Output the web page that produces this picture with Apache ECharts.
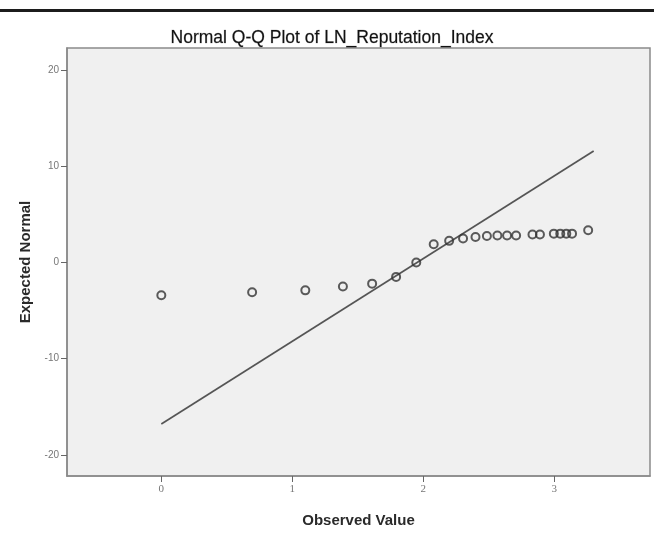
<!DOCTYPE html>
<html>
<head>
<meta charset="utf-8">
<script src="https://cdn.jsdelivr.net/npm/echarts@6/dist/echarts.min.js"></script>
<style>
  html, body { margin: 0; padding: 0; background: #ffffff; }
  #chart { width: 654px; height: 533px; }
</style>
</head>
<body>
<div id="chart"></div>
<script>
// Observed values (natural log of the index) and their expected normal scores
const observedValues = [0.000, 0.693, 1.099, 1.386, 1.609, 1.792, 1.946, 2.079, 2.197, 2.303, 2.398,
  2.485, 2.565, 2.639, 2.708, 2.833, 2.890, 2.996, 3.045, 3.091, 3.135, 3.258];
const expectedNormal = [-3.4, -3.1, -2.9, -2.5, -2.2, -1.5, 0.0, 1.9, 2.25, 2.5, 2.65,
  2.75, 2.8, 2.8, 2.8, 2.9, 2.9, 3.0, 3.0, 3.0, 3.0, 3.35];

// Reference line end points
const refLineX = [0.0, 3.30];
const refLineY = [-16.8, 11.6];

// Axis tick labels
const xTicks = [0, 1, 2, 3];
const yTicks = [-20, -10, 0, 10, 20];

const points = observedValues.map((v, i) => [v, expectedNormal[i]]);
const refLine = refLineX.map((v, i) => [v, refLineY[i]]);

const chart = echarts.init(document.getElementById('chart'), null, { renderer: 'canvas' });

chart.setOption({
  backgroundColor: '#ffffff',
  animation: false,
  title: {
    text: 'Normal Q-Q Plot of LN_Reputation_Index',
    left: 327,
    textAlign: 'center',
    top: 24,
    textStyle: {
      fontFamily: 'Liberation Sans, Arial, sans-serif',
      fontSize: 17.5,
      fontWeight: 'normal',
      color: '#111111',
      textBorderColor: 'rgba(17,17,17,0.35)',
      textBorderWidth: 0.6
    }
  },
  graphic: [
    {
      type: 'rect',
      shape: { x: 0, y: 9, width: 654, height: 3 },
      style: { fill: '#1c1c1c' },
      silent: true
    }
  ],
  grid: {
    left: 67,
    top: 48,
    right: 4,
    bottom: 57,
    show: true,
    backgroundColor: '#f0f0f0',
    borderColor: '#8a8a8a',
    borderWidth: 1.5
  },
  xAxis: {
    type: 'value',
    min: -0.72,
    max: 3.73,
    name: 'Observed Value',
    nameLocation: 'middle',
    nameGap: 37,
    nameTextStyle: {
      fontFamily: 'Liberation Sans, Arial, sans-serif',
      fontSize: 15,
      fontWeight: 'bold',
      color: '#2a2a2a'
    },
    axisLine: { show: true, onZero: false, lineStyle: { color: '#8a8a8a', width: 1.5 } },
    splitLine: { show: false },
    axisTick: {
      show: true,
      customValues: xTicks,
      length: 6,
      lineStyle: { color: '#666666', width: 1 }
    },
    axisLabel: {
      customValues: xTicks,
      margin: 8,
      fontFamily: 'Liberation Serif, serif',
      fontSize: 11,
      color: '#777777',
      formatter: v => String(v)
    }
  },
  yAxis: {
    type: 'value',
    min: -22.2,
    max: 22.3,
    name: 'Expected Normal',
    nameLocation: 'middle',
    nameGap: 34,
    nameRotate: 90,
    nameTextStyle: {
      fontFamily: 'Liberation Sans, Arial, sans-serif',
      fontSize: 15,
      fontWeight: 'bold',
      color: '#2a2a2a'
    },
    axisLine: { show: true, onZero: false, lineStyle: { color: '#8a8a8a', width: 1.5 } },
    splitLine: { show: false },
    axisTick: {
      show: true,
      customValues: yTicks,
      length: 6,
      lineStyle: { color: '#666666', width: 1 }
    },
    axisLabel: {
      customValues: yTicks,
      margin: 8,
      fontFamily: 'Liberation Sans, Arial, sans-serif',
      fontSize: 10,
      color: '#777777',
      formatter: v => String(v)
    }
  },
  series: [
    {
      name: 'Reference',
      type: 'line',
      data: refLine,
      showSymbol: false,
      symbol: 'none',
      lineStyle: { color: '#555555', width: 1.7 },
      z: 2
    },
    {
      name: 'Observed',
      type: 'scatter',
      data: points,
      symbol: 'circle',
      symbolSize: 8,
      itemStyle: {
        color: 'rgba(0,0,0,0)',
        borderColor: '#333333',
        borderWidth: 2
      },
      z: 3
    }
  ]
});
</script>
</body>
</html>
